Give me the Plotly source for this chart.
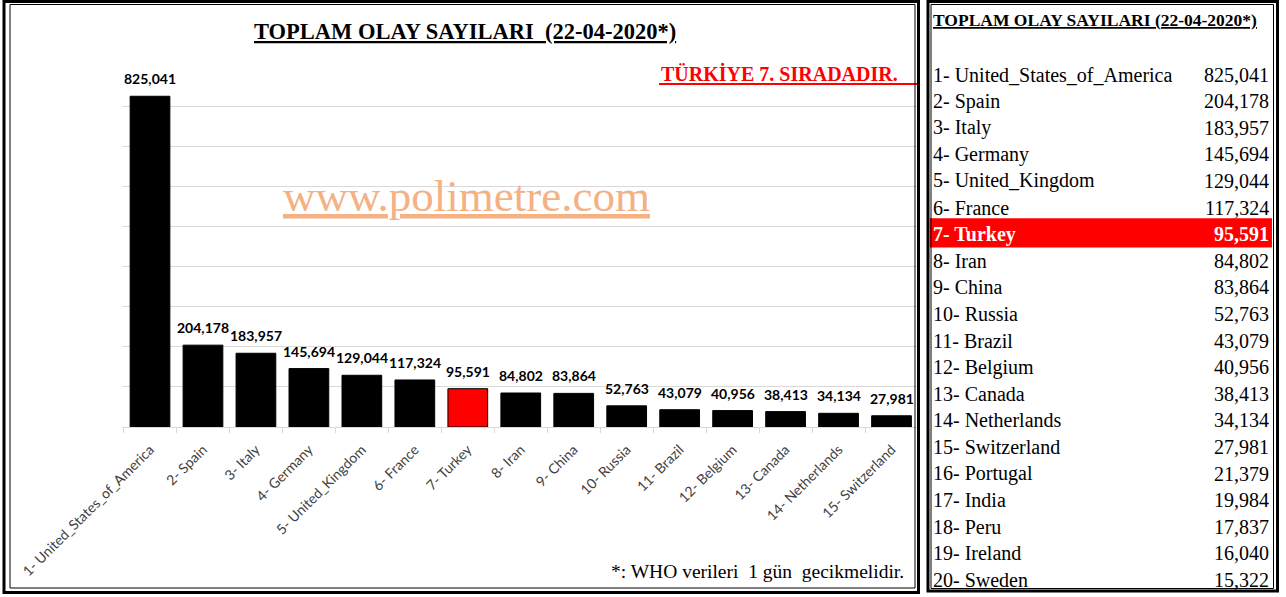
import plotly.graph_objects as go

W, H = 1286, 597

# ---- data ----
chart_countries = ["1- United_States_of_America", "2- Spain", "3- Italy", "4- Germany",
                   "5- United_Kingdom", "6- France", "7- Turkey", "8- Iran", "9- China",
                   "10- Russia", "11- Brazil", "12- Belgium", "13- Canada",
                   "14- Netherlands", "15- Switzerland"]
chart_values = [825041, 204178, 183957, 145694, 129044, 117324, 95591, 84802, 83864,
                52763, 43079, 40956, 38413, 34134, 27981]

table_countries = ["1- United_States_of_America", "2- Spain", "3- Italy", "4- Germany",
                   "5- United_Kingdom", "6- France", "7- Turkey", "8- Iran", "9- China",
                   "10- Russia", "11- Brazil", "12- Belgium", "13- Canada",
                   "14- Netherlands", "15- Switzerland", "16- Portugal", "17- India",
                   "18- Peru", "19- Ireland", "20- Sweden"]
table_values = [825041, 204178, 183957, 145694, 129044, 117324, 95591, 84802, 83864,
                52763, 43079, 40956, 38413, 34134, 27981, 21379, 19984, 17837, 16040, 15322]

highlight = "7- Turkey"
title_text = "TOPLAM OLAY SAYILARI\u00a0\u00a0(22-04-2020*)"
table_title = "TOPLAM OLAY SAYILARI (22-04-2020*)"
note_text = "*: WHO verileri\u00a0\u00a01 gün\u00a0\u00a0gecikmelidir."
rank_text = "TÜRKİYE 7. SIRADADIR."
watermark = "www.polimetre.com"


def px(x):
    return x / W


def py(y):
    return 1 - y / H


SERIF = "Liberation Serif, Times New Roman, serif"
SANS = "Lato, Open Sans, sans-serif"

colors = ["#FF0000" if c == highlight else "#000000" for c in chart_countries]

fig = go.Figure()
fig.add_trace(go.Bar(
    x=chart_countries, y=chart_values,
    marker=dict(color=colors, line=dict(color="#000000", width=1)),
    width=0.75, hoverinfo="skip", showlegend=False,
))

annotations = []
# value labels above bars
for c, v in zip(chart_countries, chart_values):
    annotations.append(dict(
        x=c, y=v, xref="x", yref="y", text=f"<b>{v:,}</b>", showarrow=False,
        yanchor="bottom", yshift=7, font=dict(family=SANS, size=14, color="#000000"),
    ))

# main title
annotations.append(dict(
    x=px(464.5), y=py(31), xref="paper", yref="paper", showarrow=False,
    text=f"<b><u>{title_text}</u></b>", xanchor="center", yanchor="middle",
    font=dict(family=SERIF, size=22.5, color="#000000"),
))
# rank note
annotations.append(dict(
    x=px(659), y=py(73), xref="paper", yref="paper", showarrow=False,
    text=f"<b>{rank_text}</b>", xanchor="left", yanchor="middle",
    font=dict(family=SERIF, size=20, color="#FF0000"),
))
# watermark
annotations.append(dict(
    x=px(466.5), y=py(196), xref="paper", yref="paper", showarrow=False,
    text=f"<u>{watermark}</u>", xanchor="center", yanchor="middle",
    font=dict(family=SERIF, size=45, color="#F4B183"),
))
# footnote
annotations.append(dict(
    x=px(906), y=py(571), xref="paper", yref="paper", showarrow=False,
    text=note_text, xanchor="right", yanchor="middle",
    font=dict(family=SERIF, size=19.5, color="#000000"),
))
# table header
annotations.append(dict(
    x=px(931), y=py(20), xref="paper", yref="paper", showarrow=False,
    text=f"<b><u>{table_title}</u></b>", xanchor="left", yanchor="middle",
    font=dict(family=SERIF, size=17.5, color="#000000"),
))

# table rows via second axes
for i, (c, v) in enumerate(zip(table_countries, table_values), start=1):
    hl = c == highlight
    col = "#FFFFFF" if hl else "#000000"
    nm = f"<b>{c}</b>" if hl else c
    vl = f"<b>{v:,}</b>" if hl else f"{v:,}"
    annotations.append(dict(
        x=0.012, y=i, xref="x2", yref="y2", showarrow=False, text=nm,
        xanchor="left", yanchor="middle", font=dict(family=SERIF, size=20, color=col)))
    annotations.append(dict(
        x=0.976, y=i, xref="x2", yref="y2", showarrow=False, text=vl,
        xanchor="right", yanchor="middle", font=dict(family=SERIF, size=20, color=col)))

row0, rstep = 74.5, 26.6
hl_row = table_countries.index(highlight) + 1

shapes = [
    # highlight band in the table
    dict(type="rect", xref="x2", yref="y2", x0=0.008, x1=0.98, y0=hl_row - 0.6, y1=hl_row + 0.5,
         fillcolor="#FF0000", line=dict(width=0), layer="below"),
    # red underline of rank note
    dict(type="line", xref="paper", yref="paper", x0=px(659), x1=px(917), y0=py(84), y1=py(84),
         line=dict(color="#FF0000", width=2)),
    # left panel borders
    dict(type="rect", xref="paper", yref="paper", x0=px(4), x1=px(918.5), y0=py(592.5), y1=py(1.5),
         line=dict(color="#000000", width=3)),
    dict(type="rect", xref="paper", yref="paper", x0=px(10), x1=px(915), y0=py(588), y1=py(4.5),
         line=dict(color="#000000", width=1)),
    # table panel borders
    dict(type="rect", xref="paper", yref="paper", x0=px(928), x1=px(1277.5), y0=py(591), y1=py(1.5),
         line=dict(color="#000000", width=3)),
    dict(type="rect", xref="paper", yref="paper", x0=px(931), x1=px(1273.5), y0=py(588.5), y1=py(4.5),
         line=dict(color="#000000", width=1)),
]

fig.update_layout(
    width=W, height=H, autosize=False,
    margin=dict(l=0, r=0, t=0, b=0, pad=0, autoexpand=False),
    paper_bgcolor="#FFFFFF", plot_bgcolor="#FFFFFF",
    bargap=0.25,
    xaxis=dict(
        domain=[px(122), px(918)], type="category", automargin=False,
        tickangle=-45, tickfont=dict(family=SANS, size=14, color="#404040"),
        ticklabelstandoff=8,
        showline=True, linecolor="#D9D9D9", linewidth=1,
        ticks="outside", tickson="boundaries", ticklen=5, tickcolor="#D9D9D9",
        showgrid=False, fixedrange=True,
    ),
    yaxis=dict(
        domain=[py(427), py(66)], range=[0, 900500], dtick=100000, automargin=False,
        showgrid=True, gridcolor="#D9D9D9", gridwidth=1,
        showticklabels=False, zeroline=False, showline=False, fixedrange=True,
    ),
    xaxis2=dict(domain=[px(927), px(1279)], range=[0, 1], visible=False, anchor="y2"),
    yaxis2=dict(domain=[0, 1], range=[1 + (H - row0) / rstep, 1 - row0 / rstep],
                visible=False, anchor="x2"),
    annotations=annotations,
    shapes=shapes,
)

fig.write_html(
    "out.html",
    config={"responsive": False, "displayModeBar": False},
    post_script="document.body.style.margin='0';document.body.style.overflow='hidden';",
)
